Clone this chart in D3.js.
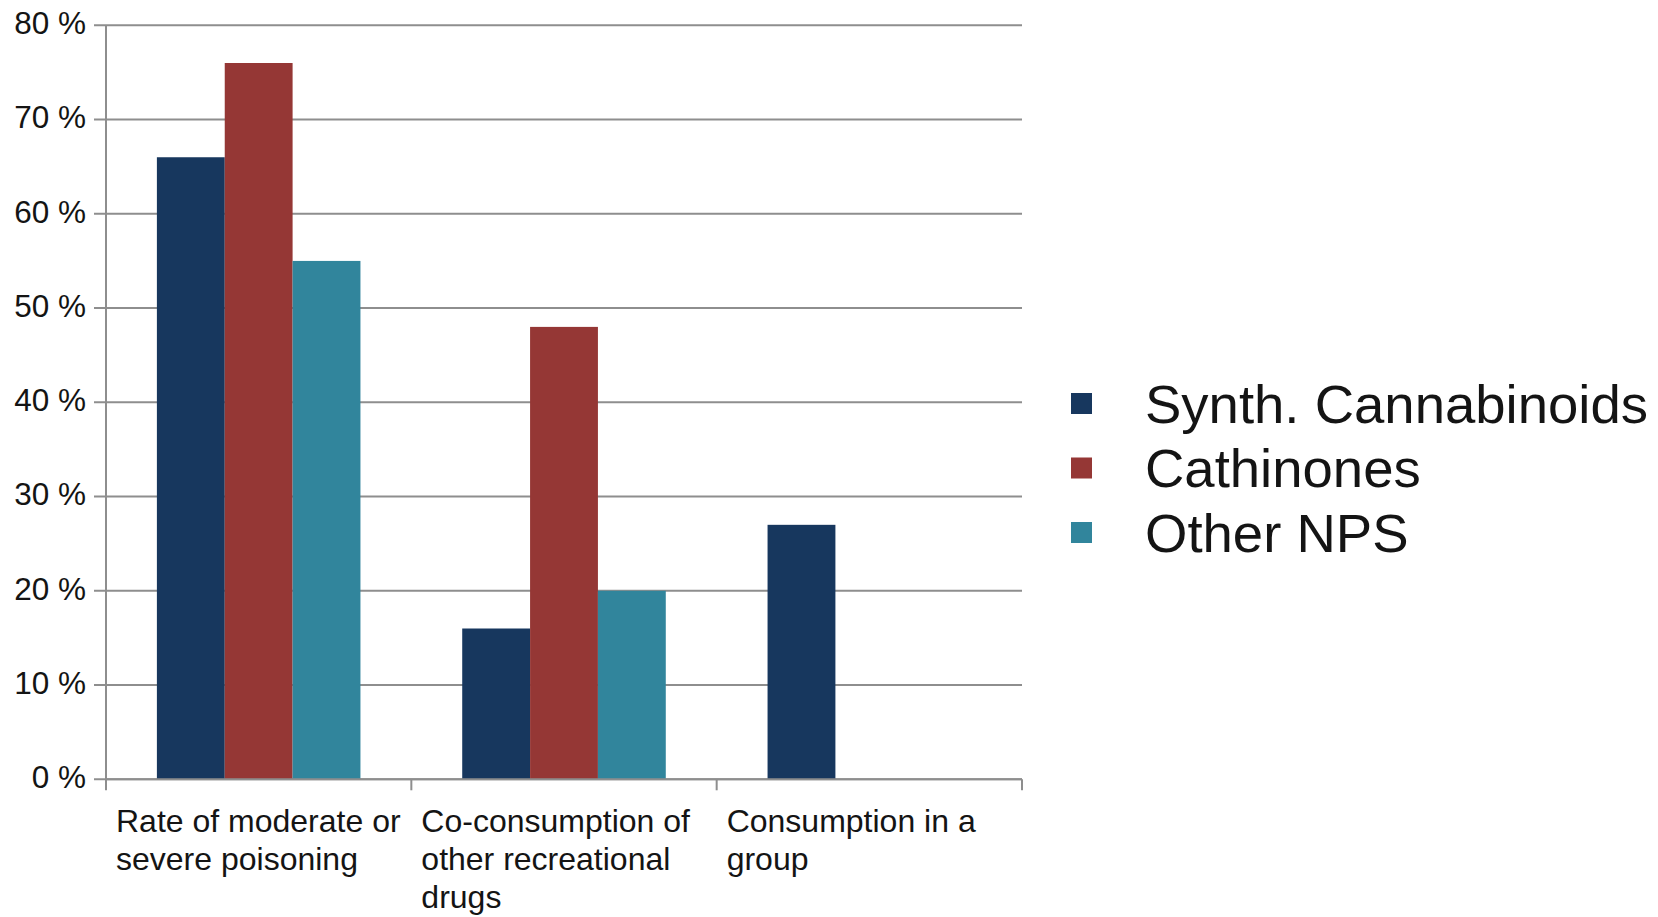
<!DOCTYPE html>
<html>
<head>
<meta charset="utf-8">
<script src="https://cdn.jsdelivr.net/npm/d3@7"></script>
<style>
  html, body { margin: 0; padding: 0; background: #ffffff; }
  svg { display: block; font-family: "Liberation Sans", Arial, sans-serif; }
</style>
</head>
<body>
<svg id="chart" width="1658" height="917"></svg>
<script>
// Categories along the x axis
const categories = [
  "Rate of moderate or severe poisoning",
  "Co-consumption of other recreational drugs",
  "Consumption in a group"
];

// Series names and their values (percent), one per category
const seriesNames = ["Synth. Cannabinoids", "Cathinones", "Other NPS"];
const synthCannabinoids = [66, 16, 27];
const cathinones = [76, 48, 0];
const otherNPS = [55, 20, 0];
const seriesValues = [synthCannabinoids, cathinones, otherNPS];

// Y axis ticks
const yTicks = [0, 10, 20, 30, 40, 50, 60, 70, 80];

const colors = ["#17375e", "#953735", "#31859c"];

const svg = d3.select("#chart");

const plot = { left: 106, right: 1022, top: 25.3, bottom: 779.3 };

const y = d3.scaleLinear().domain([0, 80]).range([plot.bottom, plot.top]);

const x0 = d3.scaleBand()
  .domain(categories)
  .range([plot.left, plot.right])
  .paddingInner(0)
  .paddingOuter(0);

const x1 = d3.scaleBand()
  .domain(seriesNames)
  .range([0, x0.bandwidth()])
  .paddingInner(0)
  .paddingOuter(0.75);

const gridColor = "#8e8e8e";
const textColor = "#141414";

// Horizontal grid lines with left tick marks
const yAxis = d3.axisLeft(y)
  .tickValues(yTicks)
  .tickFormat(d => d + " %")
  .tickSize(0)
  .tickPadding(0);

const yg = svg.append("g").attr("class", "y-grid");
yg.selectAll("line")
  .data(yTicks)
  .join("line")
  .attr("x1", plot.left - 12)
  .attr("x2", plot.right)
  .attr("y1", d => y(d))
  .attr("y2", d => y(d))
  .attr("stroke", gridColor)
  .attr("stroke-width", 2);

// Bars
const groups = svg.append("g").attr("class", "bars")
  .selectAll("g")
  .data(categories)
  .join("g")
  .attr("transform", d => `translate(${x0(d)},0)`);

groups.selectAll("rect")
  .data((c, ci) => seriesNames.map((s, si) => ({ s, si, v: seriesValues[si][ci] })))
  .join("rect")
  .filter(d => d.v > 0)
  .attr("x", d => x1(d.s))
  .attr("width", x1.bandwidth())
  .attr("y", d => y(d.v))
  .attr("height", d => y(0) - y(d.v))
  .attr("fill", d => colors[d.si]);

// Y axis line and tick labels
const yAxisG = svg.append("g")
  .attr("transform", `translate(${plot.left - 20},0)`)
  .call(yAxis);
yAxisG.select(".domain").remove();
yAxisG.selectAll("text")
  .attr("font-size", 31.5)
  .attr("fill", textColor)
  .attr("font-family", "'Liberation Sans', Arial, sans-serif")
  .attr("dy", "0.26em");

svg.append("line")
  .attr("x1", plot.left).attr("x2", plot.left)
  .attr("y1", plot.top).attr("y2", plot.bottom)
  .attr("stroke", gridColor).attr("stroke-width", 2);

// X axis baseline and category boundary ticks
const boundaries = categories.map(c => x0(c)).concat([plot.right]);
svg.append("line")
  .attr("x1", plot.left).attr("x2", plot.right)
  .attr("y1", plot.bottom).attr("y2", plot.bottom)
  .attr("stroke", gridColor).attr("stroke-width", 2);
svg.append("g").selectAll("line")
  .data(boundaries)
  .join("line")
  .attr("x1", d => d).attr("x2", d => d)
  .attr("y1", plot.bottom).attr("y2", plot.bottom + 11)
  .attr("stroke", gridColor).attr("stroke-width", 2);

// Category labels, word-wrapped to the band width
const labelSize = 32;
const lineHeight = 38;
const maxWidth = x0.bandwidth() - 12;
const xl = svg.append("g").attr("class", "x-labels");
categories.forEach(c => {
  const t = xl.append("text")
    .attr("x", x0(c) + 10)
    .attr("y", 832)
    .attr("font-size", labelSize)
    .attr("fill", textColor);
  const words = c.split(" ");
  let line = [];
  let tspan = t.append("tspan").attr("x", x0(c) + 10).attr("dy", 0);
  words.forEach(w => {
    line.push(w);
    tspan.text(line.join(" "));
    if (tspan.node().getComputedTextLength() > maxWidth && line.length > 1) {
      line.pop();
      tspan.text(line.join(" "));
      line = [w];
      tspan = t.append("tspan").attr("x", x0(c) + 10).attr("dy", lineHeight).text(w);
    }
  });
});

// Legend
const legend = svg.append("g").attr("class", "legend");
const legendItems = legend.selectAll("g")
  .data(seriesNames)
  .join("g")
  .attr("transform", (d, i) => `translate(1071, ${403.5 + i * 64.5})`);
legendItems.append("rect")
  .attr("x", 0).attr("y", -10.5)
  .attr("width", 21).attr("height", 21)
  .attr("fill", (d, i) => colors[i]);
legendItems.append("text")
  .attr("x", 74)
  .attr("y", 19)
  .attr("font-size", 54.5)
  .attr("fill", textColor)
  .text(d => d);
</script>
</body>
</html>
